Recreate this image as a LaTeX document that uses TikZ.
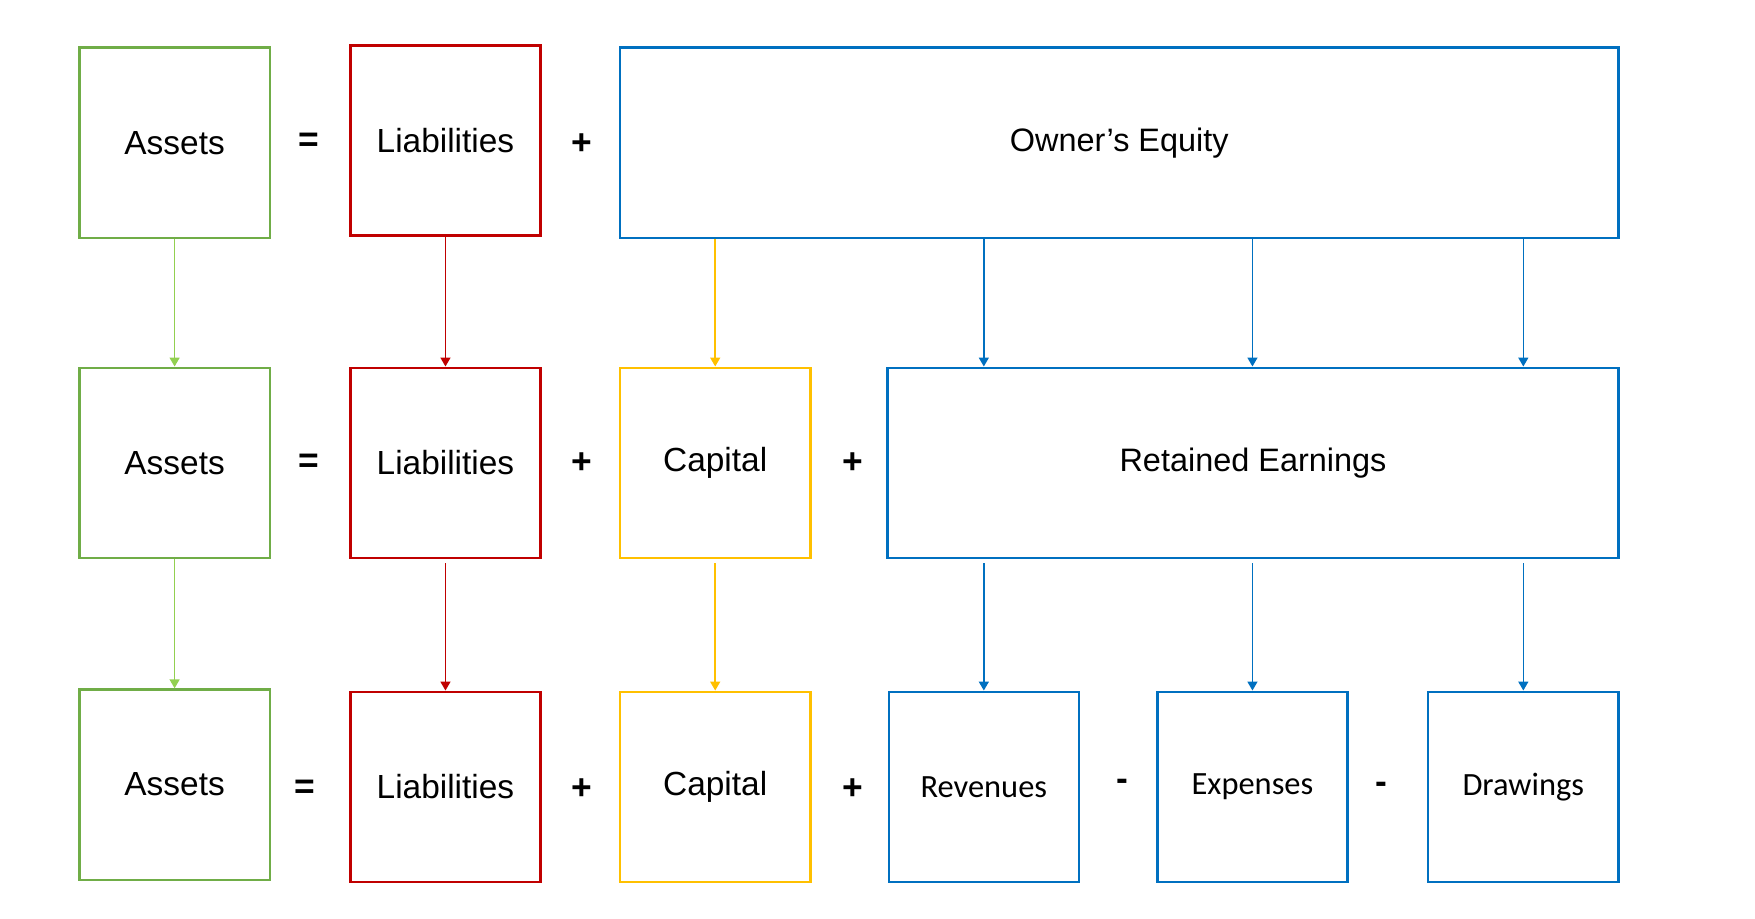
\documentclass[tikz,border=0pt]{standalone}
\usepackage{fontspec}
\setmainfont{Liberation Sans}
\newfontfamily\calfont{Carlito}
\usetikzlibrary{positioning}
\usetikzlibrary{arrows.meta}
\usetikzlibrary{calc}

\definecolor{asgreen}{RGB}{112,173,71}
\definecolor{aslight}{RGB}{146,208,80}
\definecolor{lired}{RGB}{192,0,0}
\definecolor{cagold}{RGB}{255,192,0}
\definecolor{oeblue}{RGB}{0,112,192}

\begin{document}
\begin{tikzpicture}[x=0.02cm, y=-0.02cm,
	box/.style={draw, line width=1.2pt, minimum width=3.4cm, minimum height=3.4cm, inner sep=0pt, font=\fontsize{17}{20}\selectfont},
	wide/.style={box, font=\fontsize{16.5}{20}\selectfont},
	small/.style={box, draw=oeblue, font=\calfont\fontsize{16.5}{20}\selectfont},
	op/.style={inner sep=0pt, font=\bfseries\fontsize{18}{20}\selectfont},
	link/.style={line width=0.8pt, -{Triangle[width=5pt,length=4.5pt]}}]
	 % Fix the page to the size of the picture
	 \useasboundingbox (0,0) rectangle (1568,820.2);

	 % First row
	 \node[box, draw=asgreen] (as1) at (156,127.5) {Assets};
	 \node[box, draw=lired] (li1) at (398,125.5) {Liabilities};
	 \node[wide, draw=oeblue, minimum width=17.84cm] (oe) at (1000,127.5) {Owner's Equity};
	 \node[op] (eq1) at (276,127) {=};
	 \node[op] (pl1) at (520,129) {+};

	 % Second row
	 \node[box, draw=asgreen] (as2) at (156,413.5) {Assets};
	 \node[box, draw=lired] (li2) at (398,413.5) {Liabilities};
	 \node[box, draw=cagold] (ca2) at (639,413.5) {Capital};
	 \node[wide, draw=oeblue, minimum width=13.06cm] (re) at (1119.5,413.5) {Retained Earnings};
	 \node[op] (eq2) at (276,414) {=};
	 \node[op] (pl2) at (520,414) {+};
	 \node[op] (pl3) at (762,414) {+};

	 % Third row
	 \node[box, draw=asgreen] (as3) at (156,701) {Assets};
	 \node[box, draw=lired] (li3) at (398,703) {Liabilities};
	 \node[box, draw=cagold] (ca3) at (639,703) {Capital};
	 \node[small] (rev) at (879,703) {Revenues};
	 \node[small] (exp) at (1119,703) {Expenses};
	 \node[small] (dra) at (1361,703) {Drawings};
	 \node[op] (eq3) at (272,705) {=};
	 \node[op] (pl4) at (520,705) {+};
	 \node[op] (pl5) at (762,705) {+};
	 \node[op] (mi1) at (1003,701) {-};
	 \node[op] (mi2) at (1234,704) {-};

	 % Links from the first row to the second
	 \draw[link, aslight] (as1) -- (as2);
	 \draw[link, lired] (li1) -- (li2);
	 \draw[link, cagold] (ca2.north |- oe.south) -- (ca2);
	 \foreach \n in {rev,exp,dra} {
	 	\draw[link, oeblue] (\n.north |- oe.south) -- (\n.north |- re.north);
	 }

	 % Links from the second row to the third
	 \draw[link, aslight] (as2) -- (as3);
	 \draw[link, lired, shorten <=2pt] (li2) -- (li3);
	 \draw[link, cagold, shorten <=2pt] (ca2) -- (ca3);
	 \foreach \n in {rev,exp,dra} {
	 	\draw[link, oeblue, shorten <=2pt] (\n.north |- re.south) -- (\n);
	 }
\end{tikzpicture}
\end{document}
